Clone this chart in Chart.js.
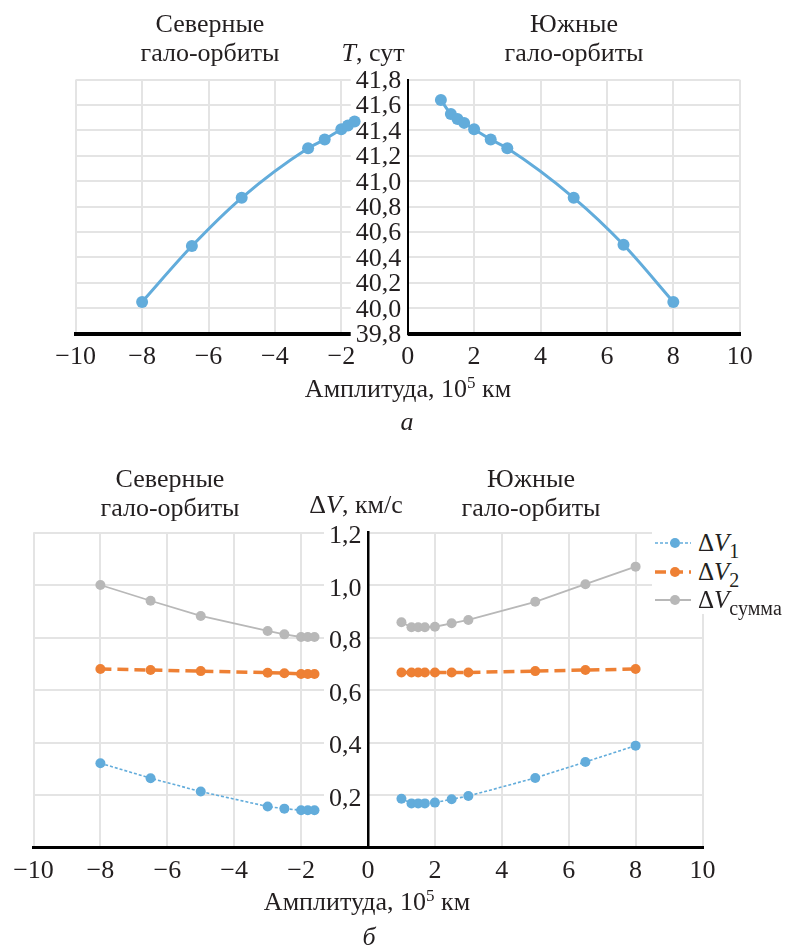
<!DOCTYPE html>
<html lang="ru">
<head>
<meta charset="utf-8">
<title>Гало-орбиты: период и затраты ΔV</title>
<script src="https://cdn.jsdelivr.net/npm/chart.js@4.4.1/dist/chart.umd.min.js"></script>
<style>
  body { margin: 0; background: #fff; }
  #page {
    position: relative; width: 786px; height: 950px; overflow: hidden;
    font-family: 'Liberation Serif', 'Times New Roman', serif; color: #231f20;
  }
  #page canvas { position: absolute; left: 0; }
  .lbl {
    position: absolute; font-size: 26px; line-height: 29.4px;
    text-align: center; white-space: nowrap; transform: translateX(-50%);
  }
  .lbl sup { font-size: 17px; line-height: 0; vertical-align: 9px; }
  #legend {
    position: absolute; left: 652px; top: 522px; width: 134px; height: 92px;
    background: #fff;
  }
  #legend .row {
    position: absolute; left: 2px; height: 28px;
    display: flex; align-items: center; font-size: 25px; white-space: nowrap;
  }
  #legend svg { margin-right: 6px; }
  #legend sub { font-size: 20px; line-height: 0; vertical-align: -7px; }
</style>
</head>
<body>
<div id="page">
  <canvas id="periodChart" width="786" height="440" style="top:0"></canvas>
  <canvas id="dvChart" width="786" height="500" style="top:450px"></canvas>

  <div class="lbl" style="left:210px; top:9px">Северные<br>гало-орбиты</div>
  <div class="lbl" style="left:574px; top:9px">Южные<br>гало-орбиты</div>
  <div class="lbl" style="left:373px; top:38px"><i>T</i>, сут</div>
  <div class="lbl" style="left:408px; top:374px">Амплитуда, 10<sup>5</sup> км</div>
  <div class="lbl" style="left:407px; top:407px"><i>а</i></div>

  <div class="lbl" style="left:170px; top:464px">Северные<br>гало-орбиты</div>
  <div class="lbl" style="left:531px; top:464px">Южные<br>гало-орбиты</div>
  <div class="lbl" style="left:356px; top:490px">Δ<i>V</i>, км/с</div>
  <div class="lbl" style="left:367px; top:887px">Амплитуда, 10<sup>5</sup> км</div>
  <div class="lbl" style="left:369px; top:922px"><i>б</i></div>

  <div id="legend"></div>
</div>

<script>
// Amplitude of the halo orbit, 10^5 km (north orbits negative)
const northAmp = [-8, -6.5, -5, -3, -2.5, -2, -1.8, -1.6];
const southAmp = [1, 1.3, 1.5, 1.7, 2, 2.5, 3, 5, 6.5, 8];

// Period T, days
const northPeriod = [40.05, 40.49, 40.87, 41.26, 41.33, 41.41, 41.44, 41.47];
const southPeriod = [41.64, 41.53, 41.49, 41.46, 41.41, 41.33, 41.26, 40.87, 40.50, 40.05];

// Delta-V, km/s
const dv1North = [0.321, 0.264, 0.213, 0.156, 0.148, 0.142, 0.142, 0.142];
const dv2North = [0.680, 0.676, 0.672, 0.666, 0.664, 0.661, 0.661, 0.661];
const dvSumNorth = [1.000, 0.940, 0.882, 0.825, 0.812, 0.802, 0.802, 0.802];
const dv1South = [0.186, 0.168, 0.168, 0.168, 0.171, 0.184, 0.196, 0.265, 0.326, 0.388];
const dv2South = [0.667, 0.667, 0.667, 0.667, 0.667, 0.667, 0.667, 0.672, 0.676, 0.680];
const dvSumSouth = [0.858, 0.839, 0.839, 0.839, 0.841, 0.854, 0.867, 0.936, 1.003, 1.070];

// Axis ranges and tick steps
const ampRange = [-10, 10], ampStep = 2;
const periodRange = [39.8, 41.8], periodStep = 0.2;
const dvRange = [0, 1.2], dvStep = 0.2;

const ink = '#231f20';
const gridColor = '#e4e4e4';
const blue = '#62acdb';
const orange = '#ee8034';
const gray = '#b8b8b8';
const tickFont = { family: "'Liberation Serif', 'Times New Roman', serif", size: 26 };

const pts = (xs, ys) => xs.map((x, i) => ({ x, y: ys[i] }));

// russian style numbers: true minus sign, decimal comma
const fmt = (v, d) => (v < 0 ? '\u2212' : '') + Math.abs(v).toFixed(d).replace('.', ',');

function ampAxis(borderWidth) {
    return {
        type: 'linear',
        min: ampRange[0],
        max: ampRange[1],
        ticks: {
            stepSize: ampStep,
            autoSkip: false,
            maxRotation: 0,
            padding: 8,
            color: ink,
            font: tickFont,
            callback: v => fmt(v, 0)
        },
        grid: { color: gridColor, lineWidth: 2, drawTicks: false },
        border: { color: '#000', width: borderWidth },
        afterFit: scale => { scale.height = 40; }
    };
}

function valueAxis(range, step, borderWidth, hideZero, labelShift) {
    return {
        type: 'linear',
        min: range[0],
        max: range[1],
        position: { x: 0 }, // axis sits in the middle at amplitude 0
        ticks: {
            stepSize: step,
            autoSkip: false,
            labelOffset: labelShift,
            color: ink,
            font: tickFont,
            // white box behind each label hides the grid lines under it
            showLabelBackdrop: true,
            backdropColor: '#fff',
            backdropPadding: { left: 5, right: 0, top: -6, bottom: -6 },
            callback: v => (hideZero && Math.abs(v) < 1e-9) ? null : fmt(v, 1) + ' '
        },
        grid: { color: gridColor, lineWidth: 2, drawTicks: false },
        border: { color: '#000', width: borderWidth, z: 1 }
    };
}

const baseOptions = {
    responsive: false,
    animation: false,
    devicePixelRatio: 1,
    plugins: { legend: { display: false }, tooltip: { enabled: false } },
    events: []
};

// Period vs amplitude
const periodLine = (data) => ({
    data,
    borderColor: blue,
    backgroundColor: blue,
    borderWidth: 3,
    pointRadius: 6,
    pointBorderWidth: 0,
    cubicInterpolationMode: 'monotone'
});

new Chart(document.getElementById('periodChart'), {
    type: 'line',
    data: {
        datasets: [
            periodLine(pts(northAmp, northPeriod)),
            periodLine(pts(southAmp, southPeriod))
        ]
    },
    options: {
        ...baseOptions,
        layout: { padding: { left: 75.7, right: 46.3, top: 79.7, bottom: 66.3 } },
        scales: {
            x: ampAxis(4),
            y: valueAxis(periodRange, periodStep, 2, false, 1.5)
        }
    }
});

// Delta-V vs amplitude
const dvSeries = [
    { sub: '1', color: blue, dash: [3, 2], width: 1.6, north: dv1North, south: dv1South },
    { sub: '2', color: orange, dash: [11, 6], width: 3.5, north: dv2North, south: dv2South },
    { sub: 'сумма', color: gray, dash: [], width: 1.8, north: dvSumNorth, south: dvSumSouth }
];

const dvDatasets = [];
dvSeries.forEach(s => {
    [pts(northAmp, s.north), pts(southAmp, s.south)].forEach(data => {
        dvDatasets.push({
            data,
            borderColor: s.color,
            backgroundColor: s.color,
            borderWidth: s.width,
            borderDash: s.dash,
            pointRadius: 5,
            pointBorderWidth: 0,
            tension: 0
        });
    });
});

new Chart(document.getElementById('dvChart'), {
    type: 'line',
    data: { datasets: dvDatasets },
    options: {
        ...baseOptions,
        layout: { padding: { left: 33.5, right: 83.5, top: 82.5, bottom: 62.5 } },
        scales: {
            x: ampAxis(3),
            y: valueAxis(dvRange, dvStep, 2.5, true, 4)
        }
    }
});

// Legend for the delta-V chart
const legend = document.getElementById('legend');
dvSeries.forEach((s, i) => {
    const row = document.createElement('div');
    row.className = 'row';
    row.style.top = (7 + i * 28.5) + 'px';
    row.innerHTML =
        '<svg width="38" height="14">' +
        '<line x1="1" y1="7" x2="37" y2="7" stroke="' + s.color + '" stroke-width="' + s.width +
        '" stroke-dasharray="' + (s.dash.length ? s.dash.join(' ') : 'none') + '"/>' +
        '<circle cx="21" cy="7" r="5" fill="' + s.color + '"/></svg>' +
        '<span>Δ<i>V</i><sub>' + s.sub + '</sub></span>';
    legend.appendChild(row);
});
</script>
</body>
</html>
